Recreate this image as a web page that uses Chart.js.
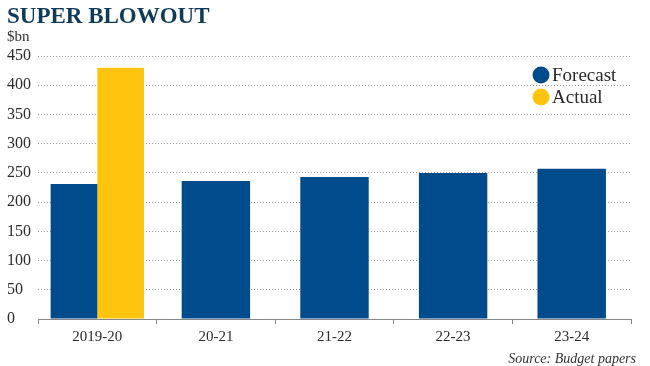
<!DOCTYPE html>
<html>
<head>
<meta charset="utf-8">
<script src="https://cdn.jsdelivr.net/npm/chart.js@4"></script>
<style>
    html, body { margin: 0; padding: 0; background: #fff; }
    #wrap { position: relative; width: 650px; height: 366px; font-family: 'Liberation Serif', serif; }
    #chart { position: absolute; left: 0; top: 0; }
    .title { position: absolute; left: 7px; top: 3px; font-size: 23px; font-weight: bold; color: #0f3b58; }
    .unit { position: absolute; left: 7px; top: 28px; font-size: 15px; color: #333; }
    .source { position: absolute; right: 14px; top: 351px; font-size: 14px; font-style: italic; color: #333; }
</style>
</head>
<body>
<div id="wrap">
    <canvas id="chart" width="650" height="366"></canvas>
    <div class="title">SUPER BLOWOUT</div>
    <div class="unit">$bn</div>
    <div class="source">Source: Budget papers</div>
</div>
<script>
const categories = ['2019-20', '20-21', '21-22', '22-23', '23-24'];
const forecast = [231, 236, 243, 250, 257];
const actual = [430, null, null, null, null];
const yTicks = [0, 50, 100, 150, 200, 250, 300, 350, 400, 450];

const BLUE = '#004b8c';
const YELLOW = '#ffc40d';
const GRID = '#9a9a9a';
const TEXT = '#2b2b2b';

// years that have an actual figure get the forecast bar paired beside it
const forecastPaired = forecast.map((v, i) => actual[i] != null ? v : null);
const forecastSolo = forecast.map((v, i) => actual[i] == null ? v : null);

// legend drawn inside the plot area, one entry per label
const innerLegend = {
    id: 'innerLegend',
    afterDraw(c) {
        const ctx = c.ctx;
        const seen = [];
        c.data.datasets.forEach(ds => {
            if (!seen.find(s => s.label === ds.label)) seen.push(ds);
        });
        const x = c.chartArea.right - 90;
        let y = c.chartArea.top + 19;
        ctx.save();
        ctx.font = '19px "Liberation Serif", serif';
        ctx.textBaseline = 'middle';
        for (const ds of seen) {
            ctx.fillStyle = ds.backgroundColor;
            ctx.beginPath();
            ctx.arc(x, y, 8.5, 0, Math.PI * 2);
            ctx.fill();
            ctx.fillStyle = TEXT;
            ctx.fillText(ds.label, x + 11, y + 1);
            y += 22;
        }
        ctx.restore();
    }
};

const ctx = document.getElementById('chart').getContext('2d');
const chart = new Chart(ctx, {
    type: 'bar',
    data: {
        labels: categories,
        datasets: [
            { label: 'Forecast', data: forecastPaired, backgroundColor: BLUE,
              barPercentage: 1, categoryPercentage: 0.787 },
            { label: 'Actual', data: actual, backgroundColor: YELLOW,
              barPercentage: 1, categoryPercentage: 0.787 },
            { label: 'Forecast', data: forecastSolo, backgroundColor: BLUE,
              grouped: false, barPercentage: 0.577, categoryPercentage: 1 }
        ]
    },
    options: {
        responsive: false,
        animation: false,
        layout: { padding: { left: 7, right: 19, top: 56, bottom: 17 } },
        plugins: {
            legend: { display: false },
            tooltip: { enabled: false }
        },
        scales: {
            x: {
                offset: true,
                grid: { offset: true, drawOnChartArea: false, drawTicks: true, tickLength: 5, color: '#888' },
                border: { display: true, color: '#888', width: 1 },
                ticks: { color: TEXT, padding: 4, font: { family: 'Liberation Serif', size: 15 } },
                afterFit(scale) { scale.height = 30; }
            },
            y: {
                min: 0,
                max: 450,
                afterBuildTicks(scale) { scale.ticks = yTicks.map(v => ({ value: v })); },
                grid: { color: GRID, drawTicks: false, lineWidth: 1 },
                border: { display: false, dash: [1, 2] },
                ticks: { color: TEXT, crossAlign: 'far', padding: 4, font: { family: 'Liberation Serif', size: 16 } },
                afterFit(scale) { scale.width = 31; }
            }
        }
    },
    plugins: [innerLegend]
});
</script>
</body>
</html>
